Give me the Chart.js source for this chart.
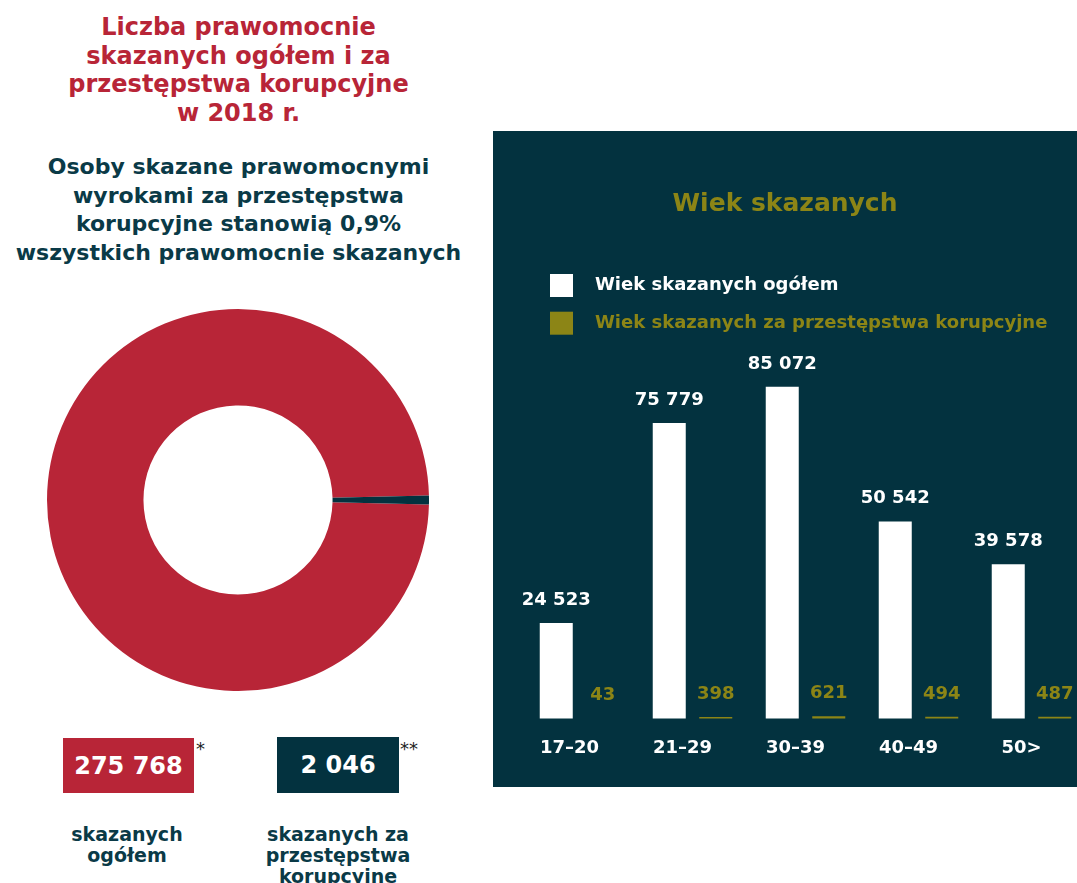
<!DOCTYPE html>
<html lang="pl">
<head>
<meta charset="utf-8">
<title>Liczba prawomocnie skazanych w 2018 r.</title>
<script src="https://cdn.jsdelivr.net/npm/chart.js@4.4.1/dist/chart.umd.min.js"></script>
<style>
    html, body { margin: 0; padding: 0; background: #fff; overflow: hidden; }
    body { width: 1077px; height: 883px; position: relative; font-family: 'DejaVu Sans', sans-serif; font-weight: bold; }
    .abs { position: absolute; }
    #title { left: 0; top: 13px; width: 477px; text-align: center; color: #b82537; font-size: 24px; line-height: 28.7px; }
    #lead { left: 0; top: 153px; width: 477px; text-align: center; color: #0a3a47; font-size: 22px; line-height: 28.6px; }
    #donutWrap { left: 47px; top: 309px; width: 382px; height: 382px; }
    .box { display: flex; align-items: center; justify-content: center; color: #fff; font-size: 24px; }
    #boxTotal { left: 63px; top: 738px; width: 131px; height: 55px; background: #b82537; }
    #boxCorr { left: 277px; top: 737px; width: 122px; height: 56px; background: #03323f; }
    .star { top: 740px; font-weight: normal; font-size: 18px; line-height: 18px; color: #222; }
    .cap { top: 824px; width: 200px; text-align: center; color: #0a3a47; font-size: 19px; line-height: 21px; }
    #panel { left: 493px; top: 131px; width: 584px; height: 656px; background: #03323f; }
</style>
</head>
<body>

<div id="title" class="abs">Liczba prawomocnie<br>skazanych ogółem i za<br>przestępstwa korupcyjne<br>w 2018 r.</div>
<div id="lead" class="abs">Osoby skazane prawomocnymi<br>wyrokami za przestępstwa<br>korupcyjne stanowią 0,9%<br>wszystkich prawomocnie skazanych</div>

<div id="donutWrap" class="abs"><canvas id="donut" width="382" height="382"></canvas></div>

<div id="boxTotal" class="abs box"></div>
<div class="abs star" style="left:196px">*</div>
<div id="boxCorr" class="abs box"></div>
<div class="abs star" style="left:400px">**</div>
<div class="abs cap" style="left:27px">skazanych<br>ogółem</div>
<div class="abs cap" style="left:238px">skazanych za<br>przestępstwa<br>korupcyjne</div>

<div id="panel" class="abs"><canvas id="ages" width="584" height="656"></canvas></div>

<script>
// --- data ---
const donutLabels = ['skazanych ogółem', 'skazanych za przestępstwa korupcyjne'];
const donutValues = [275768, 2046];

const ageGroups = ['17–20', '21–29', '30–39', '40–49', '50>'];
const convictedTotal = [24523, 75779, 85072, 50542, 39578];
const convictedCorruption = [43, 398, 621, 494, 487];
const seriesNames = ['Wiek skazanych ogółem', 'Wiek skazanych za przestępstwa korupcyjne'];

const RED = '#b82537';
const TEAL = '#03323f';
const OLIVE = '#8c8516';
const FONT = '"DejaVu Sans", sans-serif';

Chart.defaults.font.family = FONT;
Chart.defaults.font.weight = 'bold';

// "275 768", "2 046"
function fmt(v) {
    return String(v).replace(/\B(?=(\d{3})+(?!\d))/g, ' ');
}

document.getElementById('boxTotal').textContent = fmt(donutValues[0]);
document.getElementById('boxCorr').textContent = fmt(donutValues[1]);

// small slice centred on 3 o'clock
const share = donutValues[1] / (donutValues[0] + donutValues[1]);

new Chart(document.getElementById('donut'), {
    type: 'doughnut',
    data: {
        labels: donutLabels,
        datasets: [{
            data: donutValues,
            backgroundColor: [RED, TEAL],
            borderWidth: 0,
            hoverOffset: 0
        }]
    },
    options: {
        responsive: false,
        animation: false,
        cutout: '49.5%',
        rotation: 90 + 180 * share,
        plugins: { legend: { display: false }, tooltip: { enabled: false } }
    }
});

// title + legend inside the dark panel
const panelHeader = {
    id: 'panelHeader',
    afterDraw(chart) {
        const ctx = chart.ctx;
        ctx.save();
        ctx.textBaseline = 'alphabetic';
        ctx.textAlign = 'center';
        ctx.fillStyle = OLIVE;
        ctx.font = 'bold 25px ' + FONT;
        ctx.fillText('Wiek skazanych', chart.width / 2, 80);

        ctx.textAlign = 'left';
        ctx.font = 'bold 18px ' + FONT;
        chart.data.datasets.forEach((ds, i) => {
            const top = 143 + i * 37.7;
            ctx.fillStyle = ds.backgroundColor;
            ctx.fillRect(57, top, 23, 23);
            ctx.fillText(ds.label, 102, top + 16);
        });
        ctx.restore();
    }
};

// value above every bar
const valueLabels = {
    id: 'valueLabels',
    afterDatasetsDraw(chart) {
        const ctx = chart.ctx;
        ctx.save();
        ctx.font = 'bold 18px ' + FONT;
        ctx.textAlign = 'center';
        ctx.textBaseline = 'alphabetic';
        chart.data.datasets.forEach((ds, i) => {
            ctx.fillStyle = ds.backgroundColor;
            chart.getDatasetMeta(i).data.forEach((bar, j) => {
                ctx.fillText(fmt(ds.data[j]), bar.x, bar.y - 18);
            });
        });
        ctx.restore();
    }
};

new Chart(document.getElementById('ages'), {
    type: 'bar',
    data: {
        labels: ageGroups,
        datasets: [
            {
                label: seriesNames[0],
                data: convictedTotal,
                backgroundColor: '#ffffff',
                categoryPercentage: 0.823,
                barPercentage: 0.71,
                clip: false
            },
            {
                label: seriesNames[1],
                data: convictedCorruption,
                backgroundColor: OLIVE,
                categoryPercentage: 0.823,
                barPercentage: 0.71,
                clip: false
            }
        ]
    },
    options: {
        responsive: false,
        animation: false,
        layout: { padding: { left: 86.5, right: 45.5, top: 197.6, bottom: 8.8 } },
        scales: {
            x: {
                offset: false,
                grid: { display: false, drawTicks: false },
                border: { display: false },
                ticks: {
                    color: '#ffffff',
                    font: { size: 18, weight: 'bold' },
                    padding: 19,
                    labelOffset: -10,
                    maxRotation: 0,
                    autoSkip: false
                }
            },
            y: { display: false, min: 0, max: 100000 }
        },
        plugins: { legend: { display: false }, tooltip: { enabled: false } }
    },
    plugins: [panelHeader, valueLabels]
});
</script>
</body>
</html>
